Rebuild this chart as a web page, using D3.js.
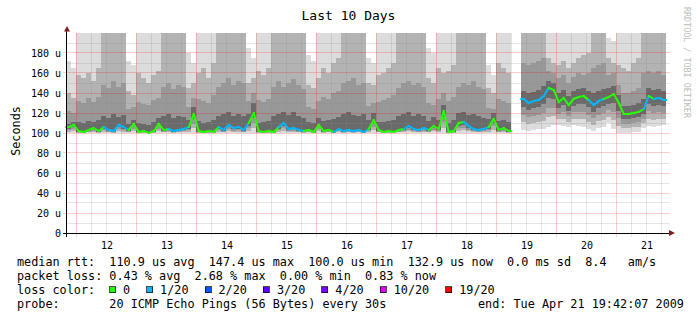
<!DOCTYPE html>
<html>
<head>
<meta charset="utf-8">
<script src="https://cdn.jsdelivr.net/npm/d3@7"></script>
<style>
  html, body { margin: 0; padding: 0; background: #fff; }
  svg { display: block; font-family: "DejaVu Sans Mono", monospace; }
</style>
</head>
<body>
<svg id="chart" width="697" height="321"></svg>
<script>
// graph period (2 hour bins from start to end)
const startTime = Date.UTC(2009, 3, 11, 19, 42, 7);
const endTime = Date.UTC(2009, 3, 21, 19, 42, 7);
const binHours = 2;

// median rtt per bin (us), null = no data
const median = [
  106, 108,
  102, 101, 103, 105, 102, 106, 103, 102, 108, 106, 103, 109,
  101, 102, 100, 102, 109, 103, 104, 102, 103, 104, 106, 119,
  102, 101, 102, 101, 106, 103, 108, 105, 106, 103, 110, 120,
  102, 101, 102, 101, 106, 110, 104, 105, 103, 102, 103, 101,
  108, 102, 103, 101, 104, 102, 103, 102, 103, 101, 104, 113,
  103, 101, 102, 101, 103, 104, 107, 104, 103, 105, 103, 107,
  104, 122, 101, 102, 110, 111, 107, 104, 103, 104, 106, 114,
  103, 105, 102, null, null, 134, 130, 132, 133, 137, 145, 143,
  131, 135, 128, 134, 136, 137, 133, 128, 132, 134, 136, 139,
  130, 119, 119, 120, 121, 124, 137, 134, 135, 133
];

// loss class per bin: index into lossLabels
const lossClass = [
  0, 0,
  0, 0, 0, 0, 0, 1, 1, 1, 1, 1, 0, 0,
  0, 0, 0, 0, 0, 0, 1, 1, 1, 1, 0, 0,
  0, 0, 0, 0, 1, 1, 1, 1, 1, 1, 0, 0,
  0, 0, 0, 0, 1, 1, 1, 1, 1, 0, 0, 0,
  0, 0, 0, 1, 1, 1, 1, 1, 1, 1, 0, 0,
  0, 0, 0, 0, 0, 1, 1, 1, 1, 1, 0, 0,
  0, 0, 0, 0, 0, 1, 1, 1, 1, 1, 0, 0,
  0, 0, 0, 0, 0, 1, 1, 1, 1, 1, 0, 0,
  0, 0, 0, 0, 0, 0, 1, 1, 1, 0, 0, 0,
  0, 0, 0, 0, 0, 1, 0, 1, 1, 1
];

// smoke: upper bound of each grey layer (outermost first), values above 200 are off scale
const smokeMax = [
  172, 165,
  250, 250, 250, 250, 250, 250, 250, 250, 250, 250, 172, 168,
  250, 250, 250, 250, 250, 250, 250, 250, 250, 250, 180, 170,
  250, 250, 250, 250, 250, 250, 250, 250, 250, 250, 185, 175,
  250, 250, 250, 250, 250, 250, 250, 250, 250, 250, 178, 172,
  250, 250, 250, 250, 250, 250, 250, 250, 250, 250, 175, 170,
  250, 250, 250, 250, 250, 250, 250, 250, 250, 250, 185, 180,
  250, 250, 250, 250, 250, 250, 250, 250, 250, 250, 168, 158,
  250, 250, 250, null, null, 250, 250, 250, 250, 250, 250, 250,
  250, 250, 250, 250, 250, 250, 250, 250, 250, 250, 195, 192,
  250, 250, 250, 250, 250, 250, 250, 250, 250, 250
];
const smokeHi = [
  140, 135,
  158, 155, 160, 152, 165, 250, 250, 250, 250, 250, 142, 138,
  160, 155, 150, 158, 162, 250, 250, 250, 250, 250, 145, 150,
  160, 165, 155, 170, 250, 250, 250, 250, 250, 250, 150, 155,
  162, 158, 165, 250, 250, 250, 250, 250, 250, 250, 148, 145,
  155, 165, 160, 170, 175, 250, 250, 250, 250, 250, 150, 148,
  158, 160, 165, 170, 250, 250, 250, 250, 250, 250, 155, 150,
  165, 160, 162, 168, 250, 250, 250, 250, 250, 250, 145, 140,
  170, 165, 160, null, null, 250, 250, 250, 250, 250, 175, 170,
  168, 172, 165, 170, 175, 178, 180, 250, 250, 250, 175, 170,
  168, 165, 162, 170, 175, 250, 250, 250, 250, 250
];
const smokeMid = [
  122, 120,
  132, 130, 135, 131, 136, 148, 145, 152, 146, 150, 124, 126,
  131, 129, 128, 133, 135, 146, 150, 144, 148, 146, 126, 135,
  134, 132, 130, 138, 146, 150, 155, 148, 152, 150, 132, 140,
  133, 131, 134, 146, 152, 146, 150, 154, 148, 144, 126, 124,
  132, 136, 134, 140, 142, 150, 152, 155, 148, 150, 127, 130,
  131, 133, 135, 138, 145, 150, 152, 148, 150, 146, 130, 128,
  134, 140, 132, 136, 146, 150, 148, 152, 146, 144, 125, 124,
  134, 132, 130, null, null, 170, 168, 170, 172, 175, 162, 160,
  155, 158, 150, 156, 160, 158, 160, 165, 168, 170, 158, 160,
  148, 140, 140, 142, 145, 160, 162, 160, 162, 158
];
const smokeLo = [
  109, 111,
  111, 110, 112, 111, 113, 117, 115, 119, 116, 118, 109, 113,
  110, 109, 108, 111, 115, 117, 119, 115, 117, 116, 113, 126,
  112, 110, 111, 113, 117, 119, 121, 117, 119, 117, 119, 130,
  110, 111, 112, 117, 119, 121, 118, 121, 117, 115, 111, 110,
  115, 112, 113, 114, 116, 119, 121, 118, 117, 119, 113, 120,
  111, 111, 112, 113, 117, 119, 121, 117, 119, 117, 112, 116,
  113, 128, 110, 113, 120, 121, 118, 119, 117, 115, 114, 120,
  112, 113, 111, null, null, 142, 140, 141, 143, 147, 152, 150,
  140, 143, 137, 142, 144, 145, 142, 140, 142, 144, 145, 147,
  138, 127, 127, 128, 130, 134, 145, 143, 144, 142
];
// lowest ping per bin
const smokeMin = [
  100, 100,
  100, 100, 100, 100, 100, 100, 100, 100, 100, 100, 100, 100,
  100, 100, 100, 100, 100, 100, 100, 100, 100, 100, 100, 100,
  100, 100, 100, 100, 100, 100, 100, 100, 100, 100, 100, 100,
  100, 100, 100, 100, 100, 100, 100, 100, 100, 100, 100, 100,
  100, 100, 100, 100, 100, 100, 100, 100, 100, 100, 100, 100,
  100, 100, 100, 100, 100, 100, 100, 100, 100, 100, 100, 100,
  100, 100, 100, 100, 100, 100, 100, 100, 100, 100, 100, 100,
  100, 100, 100, null, null, 103, 102, 103, 104, 104, 106, 108,
  108, 107, 106, 108, 107, 106, 104, 102, 105, 106, 110, 104,
  100, 100, 100, 101, 101, 105, 107, 106, 107, 108
];

const lossLabels = ['0', '1/20', '2/20', '3/20', '4/20', '10/20', '19/20'];
const lossColors = ['#26ff00', '#00b8ff', '#0059ff', '#5e00ff', '#7e00ff', '#dd00ff', '#ff0000'];

const yTickValues = [0, 20, 40, 60, 80, 100, 120, 140, 160, 180];
const yMinorValues = [10, 30, 50, 70, 90, 110, 130, 150, 170, 190];

// legend figures
const medianStats = [110.9, 147.4, 100.0, 132.9]; // avg, max, min, now (us)
const medianSd = 0.0;
const medianAmS = 8.4;
const lossStats = [0.43, 2.68, 0.00, 0.83]; // avg, max, min, now (%)

const svg = d3.select('#chart');

const x = d3.scaleUtc()
  .domain([new Date(startTime), new Date(endTime)])
  .range([66.25, 666.25]);

const y = d3.scaleLinear()
  .domain([0, 200])
  .range([233, 33])
  .clamp(true);

const binMs = binHours * 3600 * 1000;
const bins = median.map((m, i) => ({
  t0: new Date(startTime + i * binMs),
  t1: new Date(startTime + (i + 1) * binMs),
  tc: new Date(startTime + (i + 0.5) * binMs),
  med: m,
  loss: lossClass[i],
  max: smokeMax[i], hi: smokeHi[i], mid: smokeMid[i], lo: smokeLo[i], min: smokeMin[i]
}));

// Smoke layers, outermost (lightest) first
const layers = [
  { key: 'max', color: '#dcdcdc', spread: 1 },
  { key: 'hi', color: '#b3b3b3', spread: 0.75 },
  { key: 'mid', color: '#989898', spread: 0.5 },
  { key: 'lo', color: '#6a6a6a', spread: 0.25 }
];

const smoke = svg.append('g').attr('shape-rendering', 'crispEdges');
layers.forEach(layer => {
  smoke.append('g')
    .selectAll('rect')
    .data(bins.filter(d => d.med != null))
    .join('rect')
    .attr('x', d => Math.round(x(d.t0)))
    .attr('width', d => Math.round(x(d.t1)) - Math.round(x(d.t0)))
    .attr('y', d => y(d[layer.key]))
    .attr('height', d => Math.max(0, y(d.med - (d.med - d.min) * layer.spread) - y(d[layer.key])))
    .attr('fill', layer.color);
});

// Grid (drawn over the smoke, semi transparent)
const grid = svg.append('g').attr('shape-rendering', 'crispEdges');
const minorTimes = d3.utcHour.every(6)
  .range(new Date(startTime), new Date(endTime))
  .filter(t => t.getUTCHours() !== 0);
const majorTimes = d3.utcDay.range(new Date(startTime), new Date(endTime));
const px = v => Math.floor(v) + 0.5;

grid.selectAll('.vminor')
  .data(minorTimes)
  .join('line')
  .attr('x1', d => px(x(d))).attr('x2', d => px(x(d)))
  .attr('y1', 33).attr('y2', 237)
  .attr('stroke', '#8f8f8f').attr('stroke-opacity', 0.22);

grid.selectAll('.hminor')
  .data(yMinorValues)
  .join('line')
  .attr('x1', 67).attr('x2', 670)
  .attr('y1', d => px(y(d))).attr('y2', d => px(y(d)))
  .attr('stroke', '#8f8f8f').attr('stroke-opacity', 0.22);

grid.selectAll('.vmajor')
  .data(majorTimes)
  .join('line')
  .attr('x1', d => px(x(d))).attr('x2', d => px(x(d)))
  .attr('y1', 33).attr('y2', 237)
  .attr('stroke', '#e50000').attr('stroke-opacity', 0.2);

grid.selectAll('.hmajor')
  .data(yTickValues.filter(v => v > 0))
  .join('line')
  .attr('x1', 63).attr('x2', 670)
  .attr('y1', d => px(y(d))).attr('y2', d => px(y(d)))
  .attr('stroke', '#e50000').attr('stroke-opacity', 0.2);

// Median line, coloured by packet loss
const medianPts = [];
bins.forEach((d, i) => {
  if (d.med == null) return;
  const prev = bins[i - 1], next = bins[i + 1];
  if (!prev || prev.med == null) medianPts.push({ x: x(d.t0), y: y(d.med), loss: d.loss, brk: true });
  medianPts.push({ x: x(d.tc), y: y(d.med), loss: d.loss });
  if (!next || next.med == null) medianPts.push({ x: x(d.t1), y: y(d.med), loss: d.loss });
});
const medianSegs = [];
for (let i = 0; i < medianPts.length - 1; i++) {
  if (medianPts[i + 1].brk) continue;
  medianSegs.push([medianPts[i], medianPts[i + 1]]);
}
svg.append('g')
  .selectAll('line')
  .data(medianSegs)
  .join('line')
  .attr('x1', d => d[0].x).attr('y1', d => d[0].y)
  .attr('x2', d => d[1].x).attr('y2', d => d[1].y)
  .attr('stroke', d => lossColors[d[0].loss])
  .attr('stroke-width', 2)
  .attr('stroke-linecap', 'square');

// Axes
const axes = svg.append('g').attr('shape-rendering', 'crispEdges');
axes.append('line')
  .attr('x1', 63).attr('x2', 670)
  .attr('y1', px(y(0))).attr('y2', px(y(0)))
  .attr('stroke', '#000');
axes.append('line')
  .attr('x1', 66.5).attr('x2', 66.5)
  .attr('y1', 237).attr('y2', 29)
  .attr('stroke', '#000');
svg.append('path')
  .attr('d', 'M64,31.5 L70,31.5 L67,26 Z')
  .attr('fill', '#7f1f1f');
svg.append('path')
  .attr('d', 'M669,230 L669,236 L675,233 Z')
  .attr('fill', '#7f1f1f');

// Y tick labels
svg.append('g')
  .selectAll('text')
  .data(yTickValues)
  .join('text')
  .attr('x', 61)
  .attr('y', d => y(d) + 4)
  .attr('text-anchor', 'end')
  .style('font-size', '10px')
  .attr('fill', '#000')
  .text(d => d === 0 ? '0' : `${d} u`);

// X tick labels at noon
const labelTimes = majorTimes
  .map(t => d3.utcHour.offset(t, 12))
  .filter(t => +t < endTime);
svg.append('g')
  .selectAll('text')
  .data(labelTimes)
  .join('text')
  .attr('x', d => x(d))
  .attr('y', 249)
  .attr('text-anchor', 'middle')
  .style('font-size', '10px')
  .text(d3.utcFormat('%d'));

// Title, axis label, watermark
svg.append('text')
  .attr('x', 348.5).attr('y', 20)
  .attr('text-anchor', 'middle')
  .style('font-size', '13px')
  .text('Last 10 Days');

svg.append('text')
  .attr('transform', 'translate(20,131) rotate(-90)')
  .attr('text-anchor', 'middle')
  .style('font-size', '11.8px')
  .text('Seconds');

svg.append('text')
  .attr('transform', 'translate(684,7) rotate(90)')
  .style('font-size', '8.4px')
  .attr('fill', '#bdbdbd')
  .text('RRDTOOL / TOBI OETIKER');

// Legend
const charW = 7.1;
const f1 = v => v.toFixed(1), f2 = v => v.toFixed(2);
const legendLines = [
  { y: 265.5, text: `median rtt:  ${f1(medianStats[0])} us avg  ${f1(medianStats[1])} us max  ${f1(medianStats[2])} us min  ${f1(medianStats[3])} us now  ${f1(medianSd)} ms sd  ${f1(medianAmS)}   am/s` },
  { y: 279.5, text: `packet loss: ${f2(lossStats[0])} % avg  ${f2(lossStats[1])} % max  ${f2(lossStats[2])} % min  ${f2(lossStats[3])} % now` },
  { y: 293.5, text: 'loss color:' },
  { y: 307.5, text: 'probe:       20 ICMP Echo Pings (56 Bytes) every 30s' }
];
const legend = svg.append('g').style('font-size', '11.8px');
legend.selectAll('text.line')
  .data(legendLines)
  .join('text')
  .attr('class', 'line')
  .attr('x', 17)
  .attr('y', d => d.y)
  .attr('xml:space', 'preserve')
  .style('white-space', 'pre')
  .text(d => d.text);

legend.append('text')
  .attr('x', 478).attr('y', 307.5)
  .attr('xml:space', 'preserve')
  .style('white-space', 'pre')
  .text('end: Tue Apr 21 19:42:07 2009');

// loss colour boxes
let bx = 109;
lossLabels.forEach((label, i) => {
  legend.append('rect')
    .attr('x', bx + 0.5).attr('y', 286.5)
    .attr('width', 6).attr('height', 6)
    .attr('fill', lossColors[i])
    .attr('stroke', '#000').attr('stroke-opacity', 0.7)
    .attr('shape-rendering', 'crispEdges');
  legend.append('text')
    .attr('x', bx + 14).attr('y', 293.5)
    .text(label);
  bx = bx + 14 + label.length * charW + 16;
});
</script>
</body>
</html>
